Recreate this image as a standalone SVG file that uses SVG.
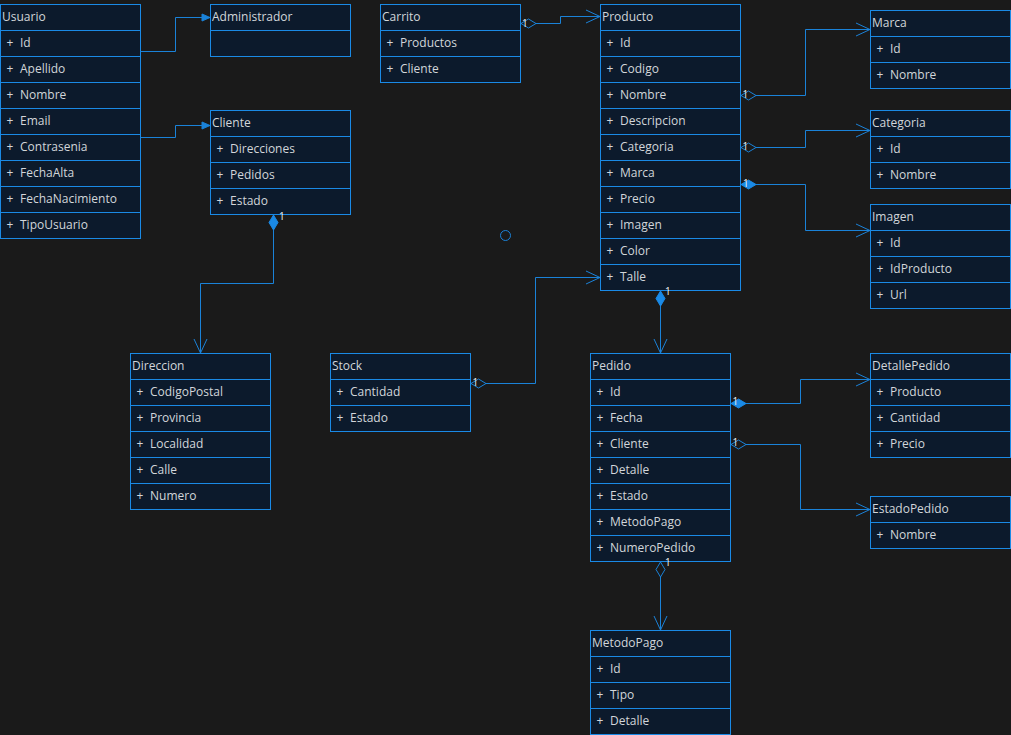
<svg xmlns="http://www.w3.org/2000/svg" width="1011" height="735" viewBox="0 0 1011 735">
<style>
.b{fill:#0c1a2c;stroke:#1a8ae6;stroke-width:1}
.h,.a{font-family:"Open Sans","Liberation Sans",sans-serif;font-size:12px;fill:#d2d6da}
.c{fill:none;stroke:#1a82d8;stroke-width:1}
.n{font-family:"Open Sans","Liberation Sans",sans-serif;font-size:10px;fill:#f0f0f0}
</style>
<defs>
<marker id="open" markerUnits="userSpaceOnUse" viewBox="-16 -8 18 16" refX="0" refY="0" markerWidth="18" markerHeight="16" orient="auto"><path d="M-14,-6.5 L0,0 L-14,6.5" fill="none" stroke="#1a82d8"/></marker>
<marker id="block" markerUnits="userSpaceOnUse" viewBox="-10 -5 12 10" refX="0" refY="0" markerWidth="12" markerHeight="10" orient="auto"><path d="M-8,-3.5 L0,0 L-8,3.5 Z" fill="#1a82d8" stroke="#1a82d8"/></marker>
<marker id="hd" markerUnits="userSpaceOnUse" viewBox="-1 -6 19 12" refX="0" refY="0" markerWidth="19" markerHeight="12" orient="auto"><path d="M0.5,0 L8,-4.5 L15.5,0 L8,4.5 Z" fill="#1a1a1a" stroke="#1a82d8"/></marker>
<marker id="fd" markerUnits="userSpaceOnUse" viewBox="-1 -6 19 12" refX="0" refY="0" markerWidth="19" markerHeight="12" orient="auto"><path d="M0.5,0 L8,-4.5 L15.5,0 L8,4.5 Z" fill="#1a8ae6" stroke="#1a8ae6"/></marker>
</defs>
<rect x="0" y="0" width="1011" height="735" fill="#1a1a1a"/>

<g id="usuario">
<rect class="b" x="0.5" y="4.5" width="140" height="26"/>
<rect class="b" x="0.5" y="30.5" width="140" height="26"/>
<rect class="b" x="0.5" y="56.5" width="140" height="26"/>
<rect class="b" x="0.5" y="82.5" width="140" height="26"/>
<rect class="b" x="0.5" y="108.5" width="140" height="26"/>
<rect class="b" x="0.5" y="134.5" width="140" height="26"/>
<rect class="b" x="0.5" y="160.5" width="140" height="26"/>
<rect class="b" x="0.5" y="186.5" width="140" height="26"/>
<rect class="b" x="0.5" y="212.5" width="140" height="26"/>
<text class="h" x="2" y="21">Usuario</text>
<text class="a" y="47"><tspan x="6.5">+</tspan><tspan x="20">Id</tspan></text>
<text class="a" y="73"><tspan x="6.5">+</tspan><tspan x="20">Apellido</tspan></text>
<text class="a" y="99"><tspan x="6.5">+</tspan><tspan x="20">Nombre</tspan></text>
<text class="a" y="125"><tspan x="6.5">+</tspan><tspan x="20">Email</tspan></text>
<text class="a" y="151"><tspan x="6.5">+</tspan><tspan x="20">Contrasenia</tspan></text>
<text class="a" y="177"><tspan x="6.5">+</tspan><tspan x="20">FechaAlta</tspan></text>
<text class="a" y="203"><tspan x="6.5">+</tspan><tspan x="20">FechaNacimiento</tspan></text>
<text class="a" y="229"><tspan x="6.5">+</tspan><tspan x="20">TipoUsuario</tspan></text>
</g>

<g id="administrador">
<rect class="b" x="210.5" y="4.5" width="140" height="26"/>
<rect class="b" x="210.5" y="30.5" width="140" height="26"/>
<text class="h" x="212" y="21">Administrador</text>
</g>

<g id="cliente">
<rect class="b" x="210.5" y="110.5" width="140" height="26"/>
<rect class="b" x="210.5" y="136.5" width="140" height="26"/>
<rect class="b" x="210.5" y="162.5" width="140" height="26"/>
<rect class="b" x="210.5" y="188.5" width="140" height="26"/>
<text class="h" x="212" y="127">Cliente</text>
<text class="a" y="153"><tspan x="216.5">+</tspan><tspan x="230">Direcciones</tspan></text>
<text class="a" y="179"><tspan x="216.5">+</tspan><tspan x="230">Pedidos</tspan></text>
<text class="a" y="205"><tspan x="216.5">+</tspan><tspan x="230">Estado</tspan></text>
</g>

<g id="carrito">
<rect class="b" x="380.5" y="4.5" width="140" height="26"/>
<rect class="b" x="380.5" y="30.5" width="140" height="26"/>
<rect class="b" x="380.5" y="56.5" width="140" height="26"/>
<text class="h" x="382" y="21">Carrito</text>
<text class="a" y="47"><tspan x="386.5">+</tspan><tspan x="400">Productos</tspan></text>
<text class="a" y="73"><tspan x="386.5">+</tspan><tspan x="400">Cliente</tspan></text>
</g>

<g id="producto">
<rect class="b" x="600.5" y="4.5" width="140" height="26"/>
<rect class="b" x="600.5" y="30.5" width="140" height="26"/>
<rect class="b" x="600.5" y="56.5" width="140" height="26"/>
<rect class="b" x="600.5" y="82.5" width="140" height="26"/>
<rect class="b" x="600.5" y="108.5" width="140" height="26"/>
<rect class="b" x="600.5" y="134.5" width="140" height="26"/>
<rect class="b" x="600.5" y="160.5" width="140" height="26"/>
<rect class="b" x="600.5" y="186.5" width="140" height="26"/>
<rect class="b" x="600.5" y="212.5" width="140" height="26"/>
<rect class="b" x="600.5" y="238.5" width="140" height="26"/>
<rect class="b" x="600.5" y="264.5" width="140" height="26"/>
<text class="h" x="602" y="21">Producto</text>
<text class="a" y="47"><tspan x="606.5">+</tspan><tspan x="620">Id</tspan></text>
<text class="a" y="73"><tspan x="606.5">+</tspan><tspan x="620">Codigo</tspan></text>
<text class="a" y="99"><tspan x="606.5">+</tspan><tspan x="620">Nombre</tspan></text>
<text class="a" y="125"><tspan x="606.5">+</tspan><tspan x="620">Descripcion</tspan></text>
<text class="a" y="151"><tspan x="606.5">+</tspan><tspan x="620">Categoria</tspan></text>
<text class="a" y="177"><tspan x="606.5">+</tspan><tspan x="620">Marca</tspan></text>
<text class="a" y="203"><tspan x="606.5">+</tspan><tspan x="620">Precio</tspan></text>
<text class="a" y="229"><tspan x="606.5">+</tspan><tspan x="620">Imagen</tspan></text>
<text class="a" y="255"><tspan x="606.5">+</tspan><tspan x="620">Color</tspan></text>
<text class="a" y="281"><tspan x="606.5">+</tspan><tspan x="620">Talle</tspan></text>
</g>

<g id="marca">
<rect class="b" x="870.5" y="10.5" width="140" height="26"/>
<rect class="b" x="870.5" y="36.5" width="140" height="26"/>
<rect class="b" x="870.5" y="62.5" width="140" height="26"/>
<text class="h" x="872" y="27">Marca</text>
<text class="a" y="53"><tspan x="876.5">+</tspan><tspan x="890">Id</tspan></text>
<text class="a" y="79"><tspan x="876.5">+</tspan><tspan x="890">Nombre</tspan></text>
</g>

<g id="categoria">
<rect class="b" x="870.5" y="110.5" width="140" height="26"/>
<rect class="b" x="870.5" y="136.5" width="140" height="26"/>
<rect class="b" x="870.5" y="162.5" width="140" height="26"/>
<text class="h" x="872" y="127">Categoria</text>
<text class="a" y="153"><tspan x="876.5">+</tspan><tspan x="890">Id</tspan></text>
<text class="a" y="179"><tspan x="876.5">+</tspan><tspan x="890">Nombre</tspan></text>
</g>

<g id="imagen">
<rect class="b" x="870.5" y="204.5" width="140" height="26"/>
<rect class="b" x="870.5" y="230.5" width="140" height="26"/>
<rect class="b" x="870.5" y="256.5" width="140" height="26"/>
<rect class="b" x="870.5" y="282.5" width="140" height="26"/>
<text class="h" x="872" y="221">Imagen</text>
<text class="a" y="247"><tspan x="876.5">+</tspan><tspan x="890">Id</tspan></text>
<text class="a" y="273"><tspan x="876.5">+</tspan><tspan x="890">IdProducto</tspan></text>
<text class="a" y="299"><tspan x="876.5">+</tspan><tspan x="890">Url</tspan></text>
</g>

<g id="direccion">
<rect class="b" x="130.5" y="353.5" width="140" height="26"/>
<rect class="b" x="130.5" y="379.5" width="140" height="26"/>
<rect class="b" x="130.5" y="405.5" width="140" height="26"/>
<rect class="b" x="130.5" y="431.5" width="140" height="26"/>
<rect class="b" x="130.5" y="457.5" width="140" height="26"/>
<rect class="b" x="130.5" y="483.5" width="140" height="26"/>
<text class="h" x="132" y="370">Direccion</text>
<text class="a" y="396"><tspan x="136.5">+</tspan><tspan x="150">CodigoPostal</tspan></text>
<text class="a" y="422"><tspan x="136.5">+</tspan><tspan x="150">Provincia</tspan></text>
<text class="a" y="448"><tspan x="136.5">+</tspan><tspan x="150">Localidad</tspan></text>
<text class="a" y="474"><tspan x="136.5">+</tspan><tspan x="150">Calle</tspan></text>
<text class="a" y="500"><tspan x="136.5">+</tspan><tspan x="150">Numero</tspan></text>
</g>

<g id="stock">
<rect class="b" x="330.5" y="353.5" width="140" height="26"/>
<rect class="b" x="330.5" y="379.5" width="140" height="26"/>
<rect class="b" x="330.5" y="405.5" width="140" height="26"/>
<text class="h" x="332" y="370">Stock</text>
<text class="a" y="396"><tspan x="336.5">+</tspan><tspan x="350">Cantidad</tspan></text>
<text class="a" y="422"><tspan x="336.5">+</tspan><tspan x="350">Estado</tspan></text>
</g>

<g id="pedido">
<rect class="b" x="590.5" y="353.5" width="140" height="26"/>
<rect class="b" x="590.5" y="379.5" width="140" height="26"/>
<rect class="b" x="590.5" y="405.5" width="140" height="26"/>
<rect class="b" x="590.5" y="431.5" width="140" height="26"/>
<rect class="b" x="590.5" y="457.5" width="140" height="26"/>
<rect class="b" x="590.5" y="483.5" width="140" height="26"/>
<rect class="b" x="590.5" y="509.5" width="140" height="26"/>
<rect class="b" x="590.5" y="535.5" width="140" height="26"/>
<text class="h" x="592" y="370">Pedido</text>
<text class="a" y="396"><tspan x="596.5">+</tspan><tspan x="610">Id</tspan></text>
<text class="a" y="422"><tspan x="596.5">+</tspan><tspan x="610">Fecha</tspan></text>
<text class="a" y="448"><tspan x="596.5">+</tspan><tspan x="610">Cliente</tspan></text>
<text class="a" y="474"><tspan x="596.5">+</tspan><tspan x="610">Detalle</tspan></text>
<text class="a" y="500"><tspan x="596.5">+</tspan><tspan x="610">Estado</tspan></text>
<text class="a" y="526"><tspan x="596.5">+</tspan><tspan x="610">MetodoPago</tspan></text>
<text class="a" y="552"><tspan x="596.5">+</tspan><tspan x="610">NumeroPedido</tspan></text>
</g>

<g id="detallepedido">
<rect class="b" x="870.5" y="353.5" width="140" height="26"/>
<rect class="b" x="870.5" y="379.5" width="140" height="26"/>
<rect class="b" x="870.5" y="405.5" width="140" height="26"/>
<rect class="b" x="870.5" y="431.5" width="140" height="26"/>
<text class="h" x="872" y="370">DetallePedido</text>
<text class="a" y="396"><tspan x="876.5">+</tspan><tspan x="890">Producto</tspan></text>
<text class="a" y="422"><tspan x="876.5">+</tspan><tspan x="890">Cantidad</tspan></text>
<text class="a" y="448"><tspan x="876.5">+</tspan><tspan x="890">Precio</tspan></text>
</g>

<g id="estadopedido">
<rect class="b" x="870.5" y="496.5" width="140" height="26"/>
<rect class="b" x="870.5" y="522.5" width="140" height="26"/>
<text class="h" x="872" y="513">EstadoPedido</text>
<text class="a" y="539"><tspan x="876.5">+</tspan><tspan x="890">Nombre</tspan></text>
</g>

<g id="metodopago">
<rect class="b" x="590.5" y="630.5" width="140" height="26"/>
<rect class="b" x="590.5" y="656.5" width="140" height="26"/>
<rect class="b" x="590.5" y="682.5" width="140" height="26"/>
<rect class="b" x="590.5" y="708.5" width="140" height="26"/>
<text class="h" x="592" y="647">MetodoPago</text>
<text class="a" y="673"><tspan x="596.5">+</tspan><tspan x="610">Id</tspan></text>
<text class="a" y="699"><tspan x="596.5">+</tspan><tspan x="610">Tipo</tspan></text>
<text class="a" y="725"><tspan x="596.5">+</tspan><tspan x="610">Detalle</tspan></text>
</g>

<g id="connectors">
<path class="c" d="M140.5,51.5 H175.5 V17.5 H210" marker-end="url(#block)"/>
<path class="c" d="M140.5,137.5 H175.5 V125.5 H210" marker-end="url(#block)"/>
<path class="c" d="M520.5,23.5 H560.5 V16.5 H600" marker-start="url(#hd)" marker-end="url(#open)"/>
<path class="c" d="M740.5,95.5 H805.5 V29.5 H870" marker-start="url(#hd)" marker-end="url(#open)"/>
<path class="c" d="M740.5,147.5 H805.5 V130.5 H870" marker-start="url(#hd)" marker-end="url(#open)"/>
<path class="c" d="M740.5,184.5 H805.5 V230.5 H870" marker-start="url(#fd)" marker-end="url(#open)"/>
<path class="c" d="M273.5,214.5 V283.5 H200.5 V353" marker-start="url(#fd)" marker-end="url(#open)"/>
<path class="c" d="M470.5,383.5 H535.5 V277.5 H600" marker-start="url(#hd)" marker-end="url(#open)"/>
<path class="c" d="M660.5,290.5 V353" marker-start="url(#fd)" marker-end="url(#open)"/>
<path class="c" d="M730.5,403.5 H800.5 V379.5 H870" marker-start="url(#fd)" marker-end="url(#open)"/>
<path class="c" d="M730.5,444.5 H800.5 V509.5 H870" marker-start="url(#hd)" marker-end="url(#open)"/>
<path class="c" d="M660.5,561.5 V630" marker-start="url(#hd)" marker-end="url(#open)"/>
<text class="n" x="522" y="26.5">1</text>
<text class="n" x="742.5" y="97.5">1</text>
<text class="n" x="742.5" y="149.5">1</text>
<text class="n" x="743" y="187">1</text>
<text class="n" x="279" y="220">1</text>
<text class="n" x="472.5" y="386">1</text>
<text class="n" x="665" y="295">1</text>
<text class="n" x="732.5" y="405">1</text>
<text class="n" x="732.5" y="446">1</text>
<text class="n" x="665" y="566">1</text>
<circle cx="505.5" cy="235.5" r="5" fill="none" stroke="#1a82d8"/>
</g>
</svg>
